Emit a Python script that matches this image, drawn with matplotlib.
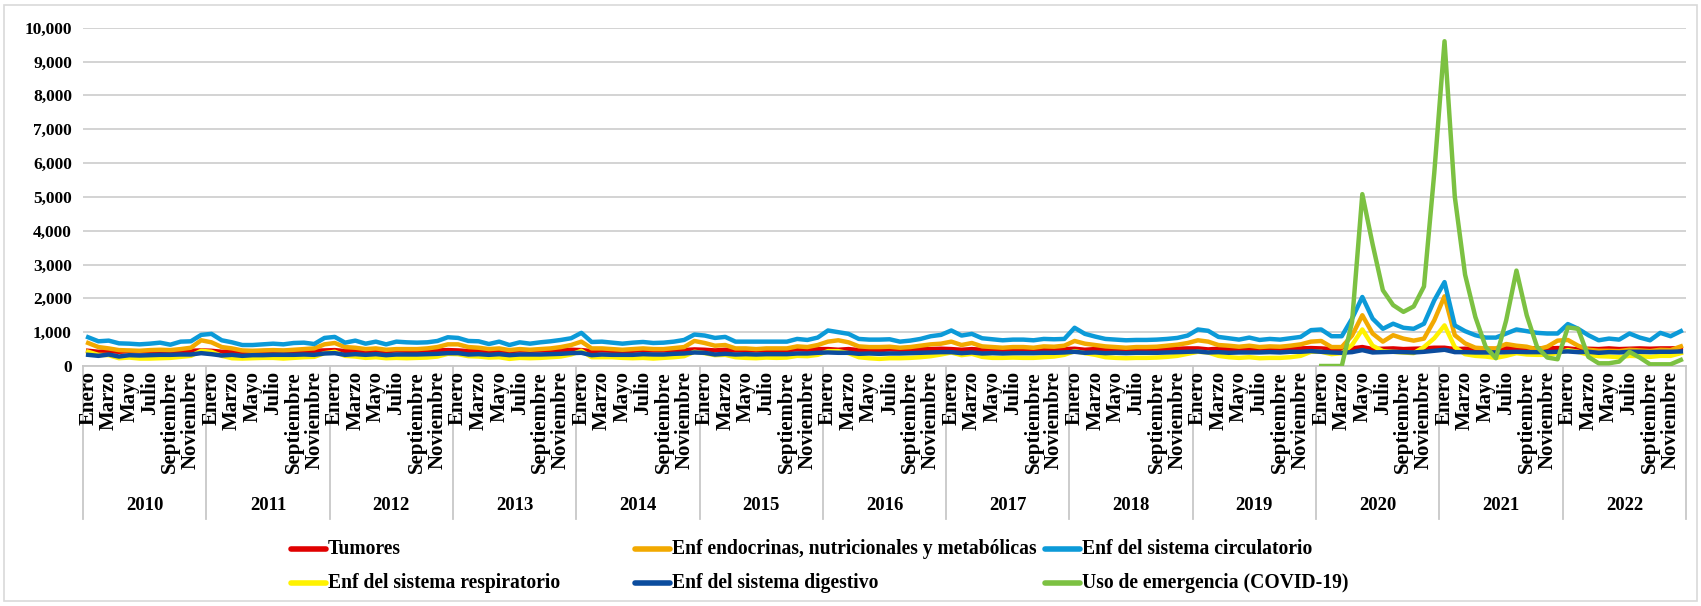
import numpy as np
import matplotlib
matplotlib.use("Agg")
import matplotlib.pyplot as plt
from matplotlib.lines import Line2D
from matplotlib.patches import Rectangle
import matplotlib.transforms as mtransforms

plt.rcParams['font.family'] = ['Liberation Serif', 'DejaVu Serif']
plt.rcParams['font.weight'] = 'bold'

years = [str(y) for y in range(2010, 2023)]
months = ['Enero', 'Febrero', 'Marzo', 'Abril', 'Mayo', 'Junio', 'Julio',
          'Agosto', 'Septiembre', 'Octubre', 'Noviembre', 'Diciembre']

# monthly values, one row per year (2010..2022)
tumores = [
    [450, 420, 440, 420, 440, 430, 440, 450, 430, 450, 450, 460],
    [450, 420, 430, 420, 430, 440, 450, 440, 440, 450, 450, 460],
    [470, 440, 460, 440, 460, 440, 460, 450, 450, 460, 460, 470],
    [460, 440, 460, 440, 460, 440, 460, 450, 460, 460, 470, 480],
    [470, 440, 460, 450, 450, 450, 470, 460, 460, 470, 470, 490],
    [480, 460, 480, 460, 470, 460, 470, 470, 470, 490, 480, 500],
    [500, 480, 500, 470, 480, 470, 490, 480, 480, 500, 500, 510],
    [500, 480, 500, 480, 490, 480, 490, 490, 490, 510, 500, 500],
    [510, 480, 500, 490, 500, 480, 500, 500, 500, 510, 510, 520],
    [520, 490, 510, 490, 510, 500, 510, 520, 510, 530, 520, 530],
    [520, 500, 500, 520, 560, 500, 510, 520, 500, 510, 520, 540],
    [540, 500, 510, 500, 510, 500, 520, 530, 520, 520, 520, 530],
    [520, 490, 510, 500, 520, 500, 510, 520, 510, 520, 520, 530],
]
endocrinas = [
    [680, 560, 520, 470, 460, 450, 470, 480, 470, 500, 540, 760],
    [700, 560, 520, 460, 450, 460, 470, 460, 480, 500, 520, 640],
    [680, 560, 540, 500, 520, 480, 500, 500, 500, 520, 560, 640],
    [640, 560, 540, 500, 520, 470, 500, 480, 500, 520, 560, 620],
    [720, 520, 520, 500, 480, 500, 520, 500, 500, 530, 560, 740],
    [680, 600, 620, 520, 520, 500, 520, 520, 520, 580, 560, 620],
    [720, 760, 700, 580, 560, 560, 570, 540, 560, 600, 640, 660],
    [720, 620, 680, 580, 560, 540, 560, 560, 540, 580, 570, 600],
    [740, 660, 620, 580, 560, 540, 560, 560, 570, 600, 630, 680],
    [760, 720, 620, 600, 570, 600, 560, 580, 570, 600, 640, 720],
    [740, 560, 560, 900, 1500, 960, 720, 910, 810, 750, 810, 1350],
    [2060, 910, 670, 540, 520, 520, 650, 600, 570, 490, 570, 750],
    [770, 600, 480, 450, 450, 440, 480, 460, 440, 480, 470, 580],
]
circulatorio = [
    [850, 730, 750, 670, 660, 640, 660, 690, 630, 720, 730, 920],
    [950, 760, 700, 620, 620, 640, 660, 640, 680, 690, 650, 830],
    [860, 690, 750, 660, 720, 640, 720, 700, 690, 700, 740, 850],
    [830, 740, 730, 650, 720, 620, 700, 660, 700, 730, 770, 820],
    [980, 710, 720, 690, 660, 690, 710, 680, 690, 720, 770, 930],
    [900, 830, 860, 720, 720, 720, 720, 720, 720, 800, 770, 840],
    [1050, 1000, 950, 800, 780, 780, 790, 720, 750, 800, 880, 920],
    [1050, 900, 950, 820, 790, 760, 780, 780, 760, 800, 790, 800],
    [1130, 950, 870, 800, 780, 760, 770, 770, 780, 800, 830, 900],
    [1080, 1040, 860, 820, 780, 840, 770, 800, 780, 820, 860, 1060],
    [1080, 880, 880, 1400, 2040, 1400, 1100, 1250, 1130, 1100, 1250, 1940],
    [2480, 1200, 1030, 910, 840, 840, 960, 1080, 1030, 980, 960, 960],
    [1240, 1100, 910, 760, 810, 780, 960, 840, 760, 980, 880, 1030],
]
respiratorio = [
    [420, 330, 320, 230, 250, 220, 220, 230, 240, 270, 300, 450],
    [420, 300, 230, 220, 230, 240, 240, 220, 240, 260, 270, 380],
    [420, 300, 280, 240, 260, 230, 240, 230, 240, 250, 280, 360],
    [350, 290, 280, 250, 260, 210, 240, 230, 240, 260, 280, 340],
    [450, 260, 260, 260, 240, 230, 240, 220, 240, 260, 290, 420],
    [380, 320, 330, 260, 240, 230, 250, 240, 250, 300, 290, 330],
    [440, 440, 380, 260, 230, 210, 230, 230, 240, 260, 290, 340],
    [400, 320, 360, 270, 240, 240, 250, 240, 240, 260, 280, 330],
    [440, 380, 330, 260, 240, 230, 240, 240, 250, 270, 300, 360],
    [420, 400, 300, 260, 240, 260, 230, 240, 240, 260, 300, 420],
    [420, 350, 380, 620, 1080, 600, 440, 420, 400, 380, 560, 820],
    [1200, 560, 350, 300, 280, 240, 300, 380, 340, 330, 330, 380],
    [470, 420, 330, 290, 280, 260, 300, 290, 270, 300, 300, 380],
]
digestivo = [
    [330, 300, 340, 280, 320, 310, 320, 330, 330, 340, 340, 380],
    [350, 310, 330, 300, 320, 320, 330, 330, 330, 340, 330, 370],
    [380, 330, 350, 330, 350, 320, 340, 340, 340, 350, 360, 380],
    [380, 340, 350, 330, 350, 320, 340, 340, 340, 350, 360, 380],
    [390, 320, 340, 330, 330, 330, 350, 340, 340, 360, 370, 400],
    [390, 340, 360, 340, 350, 340, 350, 350, 350, 370, 370, 390],
    [400, 390, 390, 360, 370, 360, 370, 370, 380, 390, 400, 410],
    [410, 380, 400, 370, 380, 370, 380, 380, 380, 390, 390, 400],
    [420, 390, 400, 380, 390, 380, 390, 390, 390, 400, 410, 420],
    [430, 400, 410, 390, 400, 400, 400, 410, 400, 420, 420, 440],
    [420, 400, 390, 410, 470, 400, 410, 420, 410, 400, 420, 450],
    [480, 410, 410, 400, 400, 400, 410, 420, 410, 410, 410, 420],
    [430, 410, 420, 390, 410, 400, 420, 420, 410, 420, 420, 430],
]
# COVID-19 emergency use, only from 2020
covid = [
    [0, 0, 0, 1300, 5080, 3600, 2240, 1800, 1600, 1760, 2350, 5700],
    [9600, 5000, 2700, 1450, 570, 230, 1350, 2820, 1500, 570, 250, 200],
    [1140, 1100, 270, 80, 80, 130, 420, 250, 50, 50, 50, 180],
]

series = [
    ('Tumores', np.ravel(tumores), '#E00000'),
    ('Enf endocrinas, nutricionales y metabólicas', np.ravel(endocrinas), '#F2A900'),
    ('Enf del sistema circulatorio', np.ravel(circulatorio), '#0C9AD8'),
    ('Enf del sistema respiratorio', np.ravel(respiratorio), '#FFF200'),
    ('Enf del sistema digestivo', np.ravel(digestivo), '#0B4C9E'),
    ('Uso de emergencia (COVID-19)',
     np.concatenate([np.full(12 * 10, np.nan), np.ravel(covid)]), '#7CC142'),
]

n = len(years) * 12
x = np.arange(n)

W, H = 1701, 606
fig = plt.figure(figsize=(W / 100, H / 100), dpi=100)
ax = fig.add_axes([83 / W, 1 - 366 / H, (1686 - 83) / W, (366 - 27.7) / H])

# outer chart frame
fig.add_artist(Rectangle((4 / W, 5 / H), (1697 - 4) / W, (601 - 5) / H,
                         transform=fig.transFigure, fill=False,
                         edgecolor='#d9d9d9', lw=1.2))

for label, vals, color in series:
    ax.plot(x, vals, color=color, lw=3.2, solid_joinstyle='round', zorder=3)

ax.set_xlim(-0.5, n - 0.5)
ax.set_ylim(0, 10000)
ax.set_yticks(np.arange(0, 10001, 1000))
ax.set_yticklabels([f'{v:,}' for v in range(0, 10001, 1000)], fontsize=12.5)
ax.yaxis.grid(True, color='#d0d0d0', lw=1.3)
ax.set_axisbelow(True)
ax.tick_params(axis='y', length=0, pad=8)
ax.tick_params(axis='x', length=0, labelbottom=False)
for s in ['top', 'right', 'left']:
    ax.spines[s].set_visible(False)
ax.spines['bottom'].set_color('#c8c8c8')
ax.spines['bottom'].set_linewidth(1.3)

# multi-level category axis
trans = mtransforms.blended_transform_factory(ax.transData, ax.transAxes)
plot_h = 366 - 27.7
for k in range(len(years) + 1):
    xs = k * 12 - 0.5
    ax.plot([xs, xs], [0, -(519 - 366) / plot_h], color='#c8c8c8', lw=1.3,
            transform=trans, clip_on=False)
for i in range(n):
    if i % 2 == 0:
        ax.text(i, -(371 - 366) / plot_h, months[i % 12], rotation=90,
                ha='center', va='top', fontsize=15, transform=trans)
for k, yr in enumerate(years):
    ax.text(k * 12 + 5.5, -(506 - 366) / plot_h, yr, ha='center', va='center',
            fontsize=13.5, transform=trans)

# legend laid out like the original (3 columns, 2 rows)
cols = [291, 635, 1045]
rows = [549, 583]
for idx, (label, vals, color) in enumerate(series):
    cx = cols[idx % 3]
    cy = 1 - rows[idx // 3] / H
    fig.add_artist(Line2D([cx / W, (cx + 35) / W], [cy, cy], color=color, lw=4,
                          solid_capstyle='round', transform=fig.transFigure))
    fig.text((cx + 37) / W, cy, label, ha='left', va='center', fontsize=14.1)

fig.savefig('out.png', dpi=100)
